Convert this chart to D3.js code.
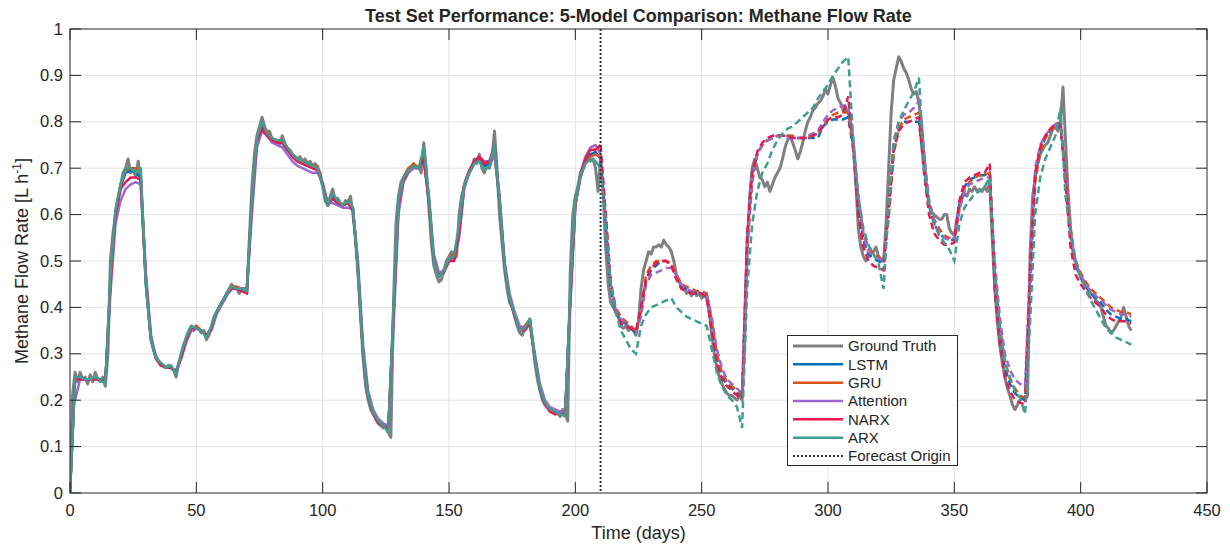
<!DOCTYPE html>
<html>
<head>
<meta charset="utf-8">
<script src="https://cdn.jsdelivr.net/npm/d3@7"></script>
<style>
  body { margin: 0; background: #fff; }
  text { font-family: "Liberation Sans", Arial, Helvetica, sans-serif; fill: #262626; }
</style>
</head>
<body>
<svg id="chart" width="1230" height="544"></svg>
<script>
// Measured methane flow rate, one value per day (days 0..420)
const truthValues = [
  0, 0.21, 0.26, 0.24, 0.26, 0.245, 0.25, 0.235, 0.255, 0.24,
  0.26, 0.245, 0.24, 0.25, 0.23, 0.30, 0.50, 0.56, 0.60, 0.63,
  0.66, 0.69, 0.70, 0.72, 0.69, 0.70, 0.68, 0.715, 0.67, 0.57,
  0.47, 0.40, 0.34, 0.31, 0.295, 0.285, 0.28, 0.275, 0.27, 0.275,
  0.27, 0.265, 0.25, 0.28, 0.30, 0.32, 0.335, 0.35, 0.36, 0.35,
  0.36, 0.355, 0.345, 0.35, 0.33, 0.34, 0.36, 0.38, 0.39, 0.40,
  0.41, 0.415, 0.43, 0.44, 0.45, 0.44, 0.44, 0.43, 0.44, 0.44,
  0.43, 0.55, 0.66, 0.73, 0.77, 0.79, 0.81, 0.79, 0.77, 0.78,
  0.76, 0.755, 0.76, 0.75, 0.77, 0.755, 0.74, 0.74, 0.73, 0.725,
  0.72, 0.725, 0.715, 0.72, 0.71, 0.715, 0.705, 0.71, 0.70, 0.69,
  0.66, 0.63, 0.62, 0.64, 0.655, 0.63, 0.635, 0.625, 0.62, 0.63,
  0.625, 0.64, 0.60, 0.55, 0.47, 0.38, 0.29, 0.23, 0.20, 0.18,
  0.17, 0.16, 0.15, 0.145, 0.14, 0.145, 0.13, 0.12, 0.40, 0.58,
  0.64, 0.67, 0.68, 0.69, 0.70, 0.70, 0.71, 0.70, 0.705, 0.69,
  0.755, 0.70, 0.62, 0.54, 0.49, 0.47, 0.455, 0.46, 0.48, 0.50,
  0.51, 0.52, 0.505, 0.51, 0.60, 0.64, 0.66, 0.68, 0.69, 0.70,
  0.72, 0.71, 0.73, 0.70, 0.69, 0.71, 0.70, 0.72, 0.78, 0.70,
  0.60, 0.54, 0.48, 0.44, 0.41, 0.40, 0.38, 0.36, 0.345, 0.34,
  0.355, 0.36, 0.375, 0.33, 0.28, 0.245, 0.22, 0.20, 0.19, 0.185,
  0.18, 0.175, 0.17, 0.175, 0.165, 0.18, 0.17, 0.155, 0.48, 0.60,
  0.64, 0.66, 0.69, 0.70, 0.715, 0.72, 0.715, 0.72, 0.70, 0.65,
  0.72, 0.65, 0.53, 0.45, 0.41, 0.40, 0.39, 0.38, 0.36, 0.355,
  0.36, 0.35, 0.355, 0.35, 0.34, 0.37, 0.44, 0.48, 0.50, 0.52,
  0.515, 0.53, 0.53, 0.535, 0.53, 0.545, 0.535, 0.53, 0.52, 0.50,
  0.47, 0.46, 0.44, 0.445, 0.43, 0.435, 0.425, 0.435, 0.425, 0.43,
  0.42, 0.425, 0.42, 0.39, 0.34, 0.30, 0.27, 0.25, 0.235, 0.225,
  0.215, 0.21, 0.21, 0.205, 0.20, 0.21, 0.20, 0.32, 0.52, 0.64,
  0.70, 0.72, 0.70, 0.68, 0.675, 0.66, 0.67, 0.65, 0.665, 0.68,
  0.69, 0.70, 0.72, 0.745, 0.76, 0.77, 0.755, 0.74, 0.72, 0.735,
  0.755, 0.78, 0.80, 0.81, 0.825, 0.83, 0.84, 0.845, 0.855, 0.87,
  0.86, 0.88, 0.895, 0.875, 0.85, 0.84, 0.825, 0.83, 0.82, 0.80,
  0.76, 0.67, 0.57, 0.53, 0.51, 0.50, 0.51, 0.515, 0.52, 0.53,
  0.51, 0.50, 0.50, 0.58, 0.70, 0.82, 0.89, 0.915, 0.94, 0.93,
  0.915, 0.905, 0.89, 0.87, 0.86, 0.865, 0.84, 0.80, 0.73, 0.66,
  0.62, 0.605, 0.60, 0.595, 0.59, 0.59, 0.60, 0.60, 0.57, 0.56,
  0.555, 0.59, 0.62, 0.635, 0.645, 0.64, 0.655, 0.65, 0.66, 0.65,
  0.655, 0.65, 0.66, 0.65, 0.67, 0.55, 0.44, 0.37, 0.32, 0.28,
  0.25, 0.225, 0.21, 0.19, 0.18, 0.19, 0.20, 0.205, 0.20, 0.21,
  0.52, 0.64, 0.68, 0.71, 0.73, 0.74, 0.75, 0.755, 0.77, 0.785,
  0.79, 0.78, 0.80, 0.875, 0.76, 0.65, 0.57, 0.52, 0.50, 0.48,
  0.465, 0.455, 0.445, 0.44, 0.43, 0.425, 0.415, 0.41, 0.40, 0.38,
  0.36, 0.355, 0.345, 0.35, 0.36, 0.37, 0.38, 0.40, 0.38, 0.36,
  0.35
];

// Model outputs, one value every 2 days (days 0..420)
const lstmValues = [
  0, 0.245, 0.245, 0.245, 0.245, 0.245, 0.245, 0.24, 0.45, 0.60,
  0.66, 0.69, 0.695, 0.69, 0.68, 0.45, 0.33, 0.29, 0.275, 0.27,
  0.27, 0.26, 0.295, 0.33, 0.355, 0.355, 0.35, 0.34, 0.355, 0.39,
  0.41, 0.43, 0.44, 0.44, 0.44, 0.44, 0.63, 0.76, 0.79, 0.775,
  0.76, 0.755, 0.755, 0.74, 0.725, 0.715, 0.71, 0.705, 0.70, 0.70,
  0.665, 0.62, 0.635, 0.625, 0.62, 0.625, 0.61, 0.48, 0.30, 0.21,
  0.175, 0.155, 0.145, 0.14, 0.38, 0.62, 0.675, 0.695, 0.705, 0.70,
  0.72, 0.63, 0.50, 0.47, 0.48, 0.50, 0.51, 0.56, 0.66, 0.69,
  0.71, 0.72, 0.705, 0.71, 0.73, 0.63, 0.49, 0.42, 0.385, 0.355,
  0.355, 0.37, 0.29, 0.225, 0.195, 0.18, 0.175, 0.175, 0.175, 0.42,
  0.62, 0.68, 0.715, 0.73, 0.735, 0.72, 0.58, 0.44, 0.39, 0.37,
  0.365, 0.355, 0.345, 0.40, 0.46, 0.48, 0.49, 0.50, 0.50, 0.49,
  0.465, 0.445, 0.44, 0.435, 0.43, 0.43, 0.425, 0.36, 0.29, 0.25,
  0.235, 0.225, 0.215, 0.21, 0.55, 0.68, 0.73, 0.75, 0.76, 0.765,
  0.77, 0.77, 0.77, 0.765, 0.765, 0.765, 0.765, 0.765, 0.765, 0.79,
  0.80, 0.805, 0.805, 0.805, 0.81, 0.74, 0.62, 0.545, 0.515, 0.505,
  0.50, 0.495, 0.60, 0.74, 0.785, 0.80, 0.80, 0.80, 0.80, 0.70,
  0.62, 0.58, 0.56, 0.55, 0.545, 0.545, 0.62, 0.66, 0.675, 0.68,
  0.685, 0.685, 0.69, 0.46, 0.34, 0.27, 0.235, 0.215, 0.205, 0.20,
  0.46, 0.68, 0.74, 0.765, 0.78, 0.79, 0.79, 0.68, 0.55, 0.49,
  0.465, 0.445, 0.43, 0.42, 0.41, 0.395, 0.385, 0.38, 0.375, 0.375,
  0.37
];
const gruValues = [
  0, 0.245, 0.245, 0.245, 0.245, 0.245, 0.245, 0.24, 0.46, 0.61,
  0.665, 0.695, 0.70, 0.70, 0.69, 0.46, 0.335, 0.29, 0.275, 0.27,
  0.27, 0.26, 0.295, 0.33, 0.355, 0.36, 0.35, 0.34, 0.355, 0.39,
  0.41, 0.43, 0.445, 0.445, 0.44, 0.44, 0.63, 0.765, 0.795, 0.78,
  0.765, 0.76, 0.76, 0.745, 0.73, 0.72, 0.715, 0.71, 0.705, 0.705,
  0.665, 0.625, 0.64, 0.63, 0.62, 0.63, 0.615, 0.48, 0.30, 0.21,
  0.175, 0.155, 0.145, 0.14, 0.38, 0.62, 0.68, 0.70, 0.71, 0.70,
  0.725, 0.635, 0.505, 0.47, 0.48, 0.505, 0.515, 0.56, 0.66, 0.695,
  0.715, 0.725, 0.71, 0.715, 0.735, 0.63, 0.49, 0.42, 0.385, 0.355,
  0.36, 0.375, 0.29, 0.225, 0.195, 0.18, 0.175, 0.175, 0.175, 0.42,
  0.62, 0.68, 0.71, 0.725, 0.73, 0.725, 0.60, 0.45, 0.40, 0.38,
  0.37, 0.36, 0.35, 0.39, 0.47, 0.49, 0.50, 0.50, 0.50, 0.495,
  0.47, 0.45, 0.445, 0.44, 0.435, 0.435, 0.43, 0.37, 0.30, 0.26,
  0.24, 0.23, 0.22, 0.21, 0.52, 0.67, 0.73, 0.75, 0.76, 0.765,
  0.77, 0.77, 0.77, 0.77, 0.765, 0.765, 0.765, 0.77, 0.775, 0.79,
  0.805, 0.815, 0.82, 0.82, 0.82, 0.75, 0.64, 0.56, 0.53, 0.515,
  0.51, 0.50, 0.59, 0.73, 0.785, 0.805, 0.81, 0.815, 0.82, 0.72,
  0.63, 0.59, 0.57, 0.555, 0.55, 0.55, 0.61, 0.655, 0.67, 0.68,
  0.685, 0.685, 0.69, 0.48, 0.36, 0.285, 0.245, 0.225, 0.21, 0.205,
  0.44, 0.67, 0.735, 0.765, 0.78, 0.79, 0.80, 0.70, 0.57, 0.50,
  0.475, 0.455, 0.44, 0.43, 0.42, 0.41, 0.40, 0.395, 0.39, 0.39,
  0.385
];
const attentionValues = [
  null, 0.20, 0.245, 0.245, 0.245, 0.245, 0.245, 0.24, 0.43, 0.58,
  0.63, 0.655, 0.665, 0.67, 0.665, 0.47, 0.34, 0.295, 0.275, 0.27,
  0.27, 0.265, 0.29, 0.325, 0.35, 0.355, 0.35, 0.34, 0.35, 0.385,
  0.405, 0.425, 0.44, 0.44, 0.44, 0.44, 0.60, 0.745, 0.78, 0.77,
  0.755, 0.75, 0.745, 0.73, 0.715, 0.705, 0.70, 0.695, 0.69, 0.69,
  0.67, 0.625, 0.625, 0.62, 0.615, 0.615, 0.61, 0.50, 0.32, 0.22,
  0.18, 0.16, 0.15, 0.145, 0.35, 0.60, 0.67, 0.69, 0.70, 0.70,
  0.715, 0.645, 0.515, 0.475, 0.48, 0.50, 0.51, 0.55, 0.655, 0.69,
  0.715, 0.725, 0.715, 0.715, 0.725, 0.645, 0.50, 0.43, 0.39, 0.36,
  0.355, 0.365, 0.30, 0.235, 0.20, 0.185, 0.18, 0.175, 0.175, 0.40,
  0.62, 0.69, 0.725, 0.745, 0.75, 0.73, 0.60, 0.46, 0.395, 0.375,
  0.365, 0.355, 0.345, 0.38, 0.45, 0.47, 0.475, 0.48, 0.485, 0.485,
  0.47, 0.45, 0.44, 0.435, 0.435, 0.43, 0.43, 0.38, 0.31, 0.27,
  0.245, 0.235, 0.225, 0.215, 0.54, 0.68, 0.73, 0.75, 0.76, 0.765,
  0.77, 0.77, 0.765, 0.765, 0.765, 0.765, 0.77, 0.775, 0.78, 0.80,
  0.815, 0.825, 0.83, 0.835, 0.835, 0.76, 0.64, 0.555, 0.52, 0.51,
  0.505, 0.50, 0.62, 0.76, 0.80, 0.815, 0.82, 0.83, 0.845, 0.73,
  0.63, 0.585, 0.56, 0.55, 0.545, 0.55, 0.61, 0.65, 0.665, 0.67,
  0.675, 0.68, 0.68, 0.50, 0.38, 0.30, 0.265, 0.245, 0.235, 0.23,
  0.50, 0.70, 0.75, 0.77, 0.785, 0.795, 0.80, 0.69, 0.56, 0.495,
  0.47, 0.45, 0.435, 0.425, 0.415, 0.405, 0.395, 0.39, 0.385, 0.385,
  0.38
];
const narxValues = [
  0, 0.245, 0.245, 0.245, 0.245, 0.245, 0.245, 0.24, 0.45, 0.60,
  0.655, 0.67, 0.68, 0.68, 0.675, 0.46, 0.33, 0.29, 0.275, 0.27,
  0.27, 0.26, 0.29, 0.33, 0.355, 0.355, 0.35, 0.34, 0.355, 0.39,
  0.41, 0.43, 0.44, 0.44, 0.435, 0.43, 0.63, 0.76, 0.785, 0.77,
  0.76, 0.755, 0.755, 0.74, 0.725, 0.715, 0.71, 0.705, 0.70, 0.695,
  0.665, 0.62, 0.635, 0.625, 0.62, 0.625, 0.61, 0.48, 0.30, 0.21,
  0.17, 0.15, 0.145, 0.14, 0.38, 0.62, 0.675, 0.695, 0.705, 0.70,
  0.72, 0.63, 0.50, 0.47, 0.475, 0.50, 0.50, 0.56, 0.665, 0.695,
  0.715, 0.725, 0.71, 0.715, 0.75, 0.63, 0.49, 0.42, 0.38, 0.35,
  0.35, 0.365, 0.29, 0.225, 0.19, 0.175, 0.17, 0.17, 0.17, 0.42,
  0.625, 0.685, 0.72, 0.74, 0.74, 0.75, 0.60, 0.45, 0.39, 0.365,
  0.36, 0.355, 0.35, 0.40, 0.46, 0.485, 0.495, 0.50, 0.50, 0.49,
  0.46, 0.44, 0.435, 0.43, 0.43, 0.43, 0.42, 0.35, 0.28, 0.245,
  0.23, 0.22, 0.21, 0.205, 0.56, 0.69, 0.735, 0.755, 0.765, 0.77,
  0.77, 0.77, 0.77, 0.765, 0.765, 0.765, 0.765, 0.77, 0.775, 0.79,
  0.805, 0.81, 0.81, 0.815, 0.855, 0.74, 0.60, 0.53, 0.50, 0.49,
  0.485, 0.48, 0.62, 0.74, 0.78, 0.795, 0.80, 0.805, 0.81, 0.69,
  0.60, 0.56, 0.545, 0.535, 0.535, 0.54, 0.63, 0.67, 0.68, 0.685,
  0.69, 0.69, 0.71, 0.44, 0.32, 0.25, 0.22, 0.20, 0.195, 0.19,
  0.48, 0.69, 0.745, 0.77, 0.785, 0.795, 0.795, 0.67, 0.53, 0.47,
  0.45, 0.435, 0.42, 0.41, 0.40, 0.385, 0.375, 0.37, 0.37, 0.37,
  0.365
];
const arxValues = [
  0, 0.25, 0.25, 0.245, 0.245, 0.25, 0.245, 0.235, 0.47, 0.61,
  0.665, 0.70, 0.70, 0.69, 0.70, 0.45, 0.33, 0.29, 0.28, 0.27,
  0.275, 0.255, 0.30, 0.335, 0.36, 0.355, 0.35, 0.335, 0.36, 0.39,
  0.41, 0.43, 0.445, 0.44, 0.44, 0.435, 0.64, 0.765, 0.80, 0.775,
  0.765, 0.76, 0.76, 0.745, 0.73, 0.72, 0.715, 0.71, 0.705, 0.70,
  0.66, 0.62, 0.645, 0.63, 0.62, 0.63, 0.615, 0.48, 0.30, 0.21,
  0.175, 0.155, 0.145, 0.13, 0.40, 0.63, 0.68, 0.695, 0.705, 0.70,
  0.745, 0.64, 0.50, 0.465, 0.48, 0.505, 0.51, 0.58, 0.665, 0.69,
  0.71, 0.715, 0.695, 0.705, 0.75, 0.63, 0.49, 0.42, 0.385, 0.35,
  0.355, 0.375, 0.29, 0.225, 0.195, 0.18, 0.175, 0.17, 0.165, 0.44,
  0.63, 0.685, 0.71, 0.72, 0.715, 0.70, 0.58, 0.45, 0.39, 0.35,
  0.33, 0.31, 0.30, 0.36, 0.385, 0.40, 0.405, 0.41, 0.415, 0.42,
  0.40, 0.39, 0.38, 0.375, 0.37, 0.365, 0.36, 0.31, 0.26, 0.23,
  0.21, 0.20, 0.185, 0.14, 0.44, 0.58, 0.65, 0.69, 0.71, 0.74,
  0.76, 0.775, 0.785, 0.79, 0.80, 0.81, 0.82, 0.83, 0.85, 0.865,
  0.88, 0.90, 0.915, 0.93, 0.94, 0.76, 0.64, 0.57, 0.535, 0.515,
  0.495, 0.44, 0.62, 0.75, 0.80, 0.825, 0.845, 0.865, 0.895, 0.70,
  0.62, 0.58, 0.555, 0.54, 0.525, 0.50, 0.58, 0.615, 0.63, 0.645,
  0.65, 0.66, 0.68, 0.48, 0.35, 0.28, 0.25, 0.22, 0.205, 0.17,
  0.37, 0.60, 0.68, 0.72, 0.745, 0.77, 0.83, 0.64, 0.56, 0.50,
  0.465, 0.44, 0.415, 0.395, 0.375, 0.355, 0.345, 0.335, 0.33, 0.325,
  0.32
];

const truthStep = 1;       // days between measured samples
const modelStep = 2;       // days between model samples
const forecastOrigin = 210;

const modelNames = ["LSTM", "GRU", "Attention", "NARX", "ARX"];
const modelColors = ["#0072BD", "#D95319", "#9E67CF", "#E8194F", "#3E9E93"];
const modelSeries = [lstmValues, gruValues, attentionValues, narxValues, arxValues];

const xTickValues = [0, 50, 100, 150, 200, 250, 300, 350, 400, 450];
const yTickValues = [0, 0.1, 0.2, 0.3, 0.4, 0.5, 0.6, 0.7, 0.8, 0.9, 1];

const titleText = "Test Set Performance: 5-Model Comparison: Methane Flow Rate";
const xLabelText = "Time (days)";

// ---------- layout ----------
const svg = d3.select("#chart");
const plot = { left: 70, right: 1207, top: 29, bottom: 493 };
const x = d3.scaleLinear().domain([0, 450]).range([plot.left, plot.right]);
const y = d3.scaleLinear().domain([0, 1]).range([plot.bottom, plot.top]);
const axisColor = "#262626";
const tickLen = 11;

svg.append("defs").append("clipPath").attr("id", "plotClip")
  .append("rect")
  .attr("x", plot.left).attr("y", plot.top)
  .attr("width", plot.right - plot.left).attr("height", plot.bottom - plot.top);

// grid
const grid = svg.append("g");
grid.selectAll("line.gx").data(xTickValues.slice(1, -1)).join("line")
  .attr("x1", d => x(d)).attr("x2", d => x(d))
  .attr("y1", plot.top).attr("y2", plot.bottom)
  .attr("stroke", "#e3e3e3").attr("stroke-width", 1);
grid.selectAll("line.gy").data(yTickValues.slice(1, -1)).join("line")
  .attr("x1", plot.left).attr("x2", plot.right)
  .attr("y1", d => y(d)).attr("y2", d => y(d))
  .attr("stroke", "#e3e3e3").attr("stroke-width", 1);

// ---------- data lines ----------
const lines = svg.append("g").attr("clip-path", "url(#plotClip)");
const toPoints = (vals, step) => vals.map((v, i) => ({ day: i * step, v }));
const lineGen = d3.line()
  .defined(d => d.v !== null)
  .x(d => x(d.day)).y(d => y(d.v));

const truthPoints = toPoints(truthValues, truthStep);
lines.append("path")
  .attr("d", lineGen(truthPoints))
  .attr("fill", "none").attr("stroke", "#808080")
  .attr("stroke-width", 3).attr("stroke-linejoin", "round");

// fitted part (solid) then forecast part (dashed)
modelSeries.forEach((vals, k) => {
  const pts = toPoints(vals, modelStep);
  lines.append("path")
    .attr("d", lineGen(pts.filter(p => p.day <= forecastOrigin)))
    .attr("fill", "none").attr("stroke", modelColors[k])
    .attr("stroke-width", 2.5).attr("stroke-linejoin", "round");
});
modelSeries.forEach((vals, k) => {
  const pts = toPoints(vals, modelStep);
  lines.append("path")
    .attr("d", lineGen(pts.filter(p => p.day >= forecastOrigin)))
    .attr("fill", "none").attr("stroke", modelColors[k])
    .attr("stroke-width", 2.5).attr("stroke-dasharray", "7,4");
});

// forecast origin marker
svg.append("line")
  .attr("x1", x(forecastOrigin)).attr("x2", x(forecastOrigin))
  .attr("y1", plot.top).attr("y2", plot.bottom)
  .attr("stroke", "#333").attr("stroke-width", 2).attr("stroke-dasharray", "2,2");

// ---------- axes box and ticks ----------
svg.append("rect")
  .attr("x", plot.left).attr("y", plot.top)
  .attr("width", plot.right - plot.left).attr("height", plot.bottom - plot.top)
  .attr("fill", "none").attr("stroke", axisColor).attr("stroke-width", 1);

const ticks = svg.append("g").attr("stroke", axisColor).attr("stroke-width", 1);
xTickValues.forEach(t => {
  ticks.append("line").attr("x1", x(t)).attr("x2", x(t))
    .attr("y1", plot.bottom).attr("y2", plot.bottom - tickLen);
  ticks.append("line").attr("x1", x(t)).attr("x2", x(t))
    .attr("y1", plot.top).attr("y2", plot.top + tickLen);
});
yTickValues.forEach(t => {
  ticks.append("line").attr("x1", plot.left).attr("x2", plot.left + tickLen)
    .attr("y1", y(t)).attr("y2", y(t));
  ticks.append("line").attr("x1", plot.right).attr("x2", plot.right - tickLen)
    .attr("y1", y(t)).attr("y2", y(t));
});

const fmtY = d3.format("~g");
svg.append("g").selectAll("text").data(xTickValues).join("text")
  .attr("x", d => x(d)).attr("y", 515.5)
  .attr("text-anchor", "middle").attr("font-size", 16.5)
  .text(d => d);
svg.append("g").selectAll("text").data(yTickValues).join("text")
  .attr("x", plot.left - 7).attr("y", d => y(d)).attr("dy", "0.34em")
  .attr("text-anchor", "end").attr("font-size", 16.5)
  .text(d => fmtY(d));

// title and axis labels
svg.append("text")
  .attr("x", (plot.left + plot.right) / 2).attr("y", 22)
  .attr("text-anchor", "middle").attr("font-size", 18).attr("font-weight", "bold")
  .attr("fill", "#000")
  .text(titleText);

svg.append("text")
  .attr("x", (plot.left + plot.right) / 2).attr("y", 539)
  .attr("text-anchor", "middle").attr("font-size", 18)
  .text(xLabelText);

const yLab = svg.append("text")
  .attr("transform", `translate(28,${(plot.top + plot.bottom) / 2}) rotate(-90)`)
  .attr("text-anchor", "middle").attr("font-size", 18);
yLab.append("tspan").text("Methane Flow Rate [L h");
yLab.append("tspan").attr("font-size", 12).attr("dy", -7).text("-1");
yLab.append("tspan").attr("dy", 7).text("]");

// ---------- legend ----------
const legendItems = [{ name: "Ground Truth", color: "#808080", width: 3, dash: null }]
  .concat(modelNames.map((n, k) => ({ name: n, color: modelColors[k], width: 2.5, dash: null })))
  .concat([{ name: "Forecast Origin", color: "#333", width: 2, dash: "2,2" }]);

const lg = svg.append("g");
lg.append("rect")
  .attr("x", 787.5).attr("y", 335.5).attr("width", 170).attr("height", 130)
  .attr("fill", "#fff").attr("stroke", axisColor).attr("stroke-width", 1);
const rowH = 18.33;
legendItems.forEach((it, i) => {
  const cy = 346 + i * rowH;
  lg.append("line")
    .attr("x1", 793).attr("x2", 843).attr("y1", cy).attr("y2", cy)
    .attr("stroke", it.color).attr("stroke-width", it.width)
    .attr("stroke-dasharray", it.dash);
  lg.append("text")
    .attr("x", 848).attr("y", cy).attr("dy", "0.35em")
    .attr("font-size", 15)
    .text(it.name);
});
</script>
</body>
</html>
